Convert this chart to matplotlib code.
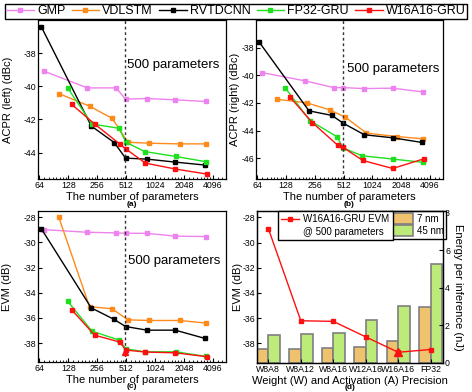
# ============================================================
# Imports
# ============================================================
import numpy as np
import matplotlib
matplotlib.use("Agg")
import matplotlib.pyplot as plt
from matplotlib.lines import Line2D
from matplotlib.ticker import FixedLocator, NullFormatter

plt.rcParams['font.family'] = ['Liberation Sans', 'DejaVu Sans']
plt.rcParams['axes.unicode_minus'] = False

# ============================================================
# Data
# ============================================================
models = ["GMP", "VDLSTM", "RVTDCNN", "FP32-GRU", "W16A16-GRU"]

params_gmp = [71, 202, 402, 506, 835, 1660, 3430]
params_vdlstm = [102, 213, 366, 533, 887, 1850, 3500]
params_rvtdcnn = [67, 222, 385, 505, 843, 1660, 3400]
params_fp32 = [126, 226, 433, 508, 797, 1680, 3500]
params_w16 = [139, 241, 442, 506, 812, 1670, 3530]

acpr_left_gmp = [-39.08, -40.1, -40.1, -40.78, -40.74, -40.82, -40.92]
acpr_left_vdlstm = [-40.44, -41.2, -41.94, -43.38, -43.44, -43.48, -43.48]
acpr_left_rvtdcnn = [-36.4, -42.4, -43.4, -44.34, -44.4, -44.58, -44.76]
acpr_left_fp32 = [-40.1, -42.28, -42.54, -43.38, -43.94, -44.24, -44.56]
acpr_left_w16 = [-41.1, -42.28, -43.5, -43.78, -44.64, -45.0, -45.3]

acpr_right_gmp = [-39.8, -40.4, -40.89, -40.89, -40.96, -40.93, -41.2]
acpr_right_vdlstm = [-41.73, -42.0, -42.5, -43.03, -44.18, -44.43, -44.6]
acpr_right_rvtdcnn = [-37.6, -42.57, -42.9, -43.46, -44.3, -44.52, -44.86]
acpr_right_fp32 = [-40.93, -43.27, -44.43, -45.26, -45.82, -46.06, -46.3]
acpr_right_w16 = [-41.54, -43.42, -45.05, -45.22, -46.16, -46.74, -46.04]

evm_gmp = [-28.98, -29.19, -29.24, -29.27, -29.27, -29.5, -29.53]
evm_vdlstm = [-28.0, -35.1, -35.27, -36.15, -36.2, -36.2, -36.41]
evm_rvtdcnn = [-28.9, -35.2, -36.12, -36.68, -36.97, -36.97, -37.63]
evm_fp32 = [-34.67, -37.05, -37.76, -38.45, -38.69, -38.69, -39.06]
evm_w16 = [-35.35, -37.37, -37.92, -38.55, -38.71, -38.77, -39.08]

highlight_params = 500
highlight_evm = -38.72

precision = ["W8A8", "W8A12", "W8A16", "W12A16", "W16A16", "FP32"]
evm_500 = [-28.9, -36.2, -36.25, -37.48, -38.7, -38.48]
energy_7nm = [0.74, 0.76, 0.80, 0.87, 1.18, 2.97]
energy_45nm = [1.47, 1.54, 1.61, 2.31, 3.06, 5.30]

x_ticks = [64, 128, 256, 512, 1024, 2048, 4096]

palette = {
    "GMP": "#EE82EE",
    "VDLSTM": "#FF8A1A",
    "RVTDCNN": "#000000",
    "FP32-GRU": "#1EE01E",
    "W16A16-GRU": "#FF1010",
    "bar7": "#EFC36E",
    "bar45": "#BDEB7A",
}

TICK_FS = 6.3
LABEL_FS = 8
TAG_FS = 6


# ============================================================
# Helpers
# ============================================================
def _param_panel(ax, series, ylim, yticks, ylabel, ylabel_x, tag, label_y, tag_y):
    params = [params_gmp, params_vdlstm, params_rvtdcnn, params_fp32, params_w16]
    for name, xs, ys in zip(models, params, series):
        ax.plot(xs, ys, marker='s', markersize=2.3, linewidth=1.0,
                color=palette[name], label=name)
    ax.axvline(highlight_params, color='#333333', linestyle=(0, (2, 2)), linewidth=1.0)

    ax.set_xscale('log', base=2)
    ax.set_xlim(62, 5600)
    ax.set_xticks(x_ticks)
    ax.set_xticklabels([str(t) for t in x_ticks])
    minor = [2 ** k * s for k in range(5, 13) for s in np.arange(1.125, 2.0, 0.125)]
    ax.xaxis.set_minor_locator(FixedLocator(minor))
    ax.xaxis.set_minor_formatter(NullFormatter())
    ax.set_ylim(*ylim)
    ax.set_yticks(yticks)

    ax.tick_params(axis='both', which='major', direction='in', length=3,
                   labelsize=TICK_FS, pad=1.2)
    ax.tick_params(axis='x', which='minor', direction='in', length=1.8)
    for sp in ax.spines.values():
        sp.set_linewidth(0.9)

    ax.set_xlabel("The number of parameters", fontsize=LABEL_FS)
    ax.xaxis.set_label_coords(0.5, label_y)
    ax.set_ylabel(ylabel, fontsize=LABEL_FS)
    ax.yaxis.set_label_coords(ylabel_x, 0.5)
    ax.text(0.5, tag_y, tag, transform=ax.transAxes, ha='center', va='center',
            fontsize=TAG_FS, fontweight='bold')


# ============================================================
# Figure
# ============================================================
W, H = 472, 392
fig = plt.figure(figsize=(W / 100, H / 100), dpi=100)


def _rect(left, top, right, bottom):
    return [left / W, 1 - bottom / H, (right - left) / W, (bottom - top) / H]


# Panel (a): ACPR left
ax_a = fig.add_axes(_rect(38, 20, 226, 179))
_param_panel(ax_a, [acpr_left_gmp, acpr_left_vdlstm, acpr_left_rvtdcnn, acpr_left_fp32, acpr_left_w16],
             (-45.6, -36.0), [-38, -40, -42, -44], "ACPR (left) (dBc)", -0.135, "(a)", -0.08, -0.16)
ax_a.text(0.475, 0.72, "500 parameters", transform=ax_a.transAxes, fontsize=9.5, va='center')

# Panel (b): ACPR right
ax_b = fig.add_axes(_rect(256, 20, 443, 179))
_param_panel(ax_b, [acpr_right_gmp, acpr_right_vdlstm, acpr_right_rvtdcnn, acpr_right_fp32, acpr_right_w16],
             (-47.5, -36.0), [-38, -40, -42, -44, -46], "ACPR (right) (dBc)", -0.085, "(b)", -0.08, -0.16)
ax_b.text(0.485, 0.69, "500 parameters", transform=ax_b.transAxes, fontsize=9.5, va='center')

# Panel (c): EVM
ax_c = fig.add_axes(_rect(38, 211, 226, 362))
_param_panel(ax_c, [evm_gmp, evm_vdlstm, evm_rvtdcnn, evm_fp32, evm_w16],
             (-39.5, -27.5), [-28, -30, -32, -34, -36, -38], "EVM (dB)", -0.14, "(c)", -0.083, -0.165)
ax_c.plot([highlight_params], [highlight_evm], marker='^', markersize=5,
          color=palette["W16A16-GRU"], linestyle='none')
ax_c.text(0.48, 0.67, "500 parameters", transform=ax_c.transAxes, fontsize=9.5, va='center')

# Top legend across the figure
handles, labels = ax_a.get_legend_handles_labels()
fig.legend(handles, labels, loc='upper center', ncol=5,
           bbox_to_anchor=(0.5, 1 - 3.5 / H),
           fontsize=9, handlelength=2.2, handletextpad=0.25, columnspacing=0.5,
           borderpad=0.12, borderaxespad=0, fancybox=False, framealpha=1,
           edgecolor='black')

# Panel (d): precision vs EVM & energy
ax_d = fig.add_axes(_rect(257, 211, 443, 363))
ax_e = ax_d.twinx()
xpos = np.arange(len(precision))
ax_e.bar(xpos - 0.18, energy_7nm, 0.36, color=palette["bar7"], edgecolor='#7f7f7f',
         linewidth=1.2, label='7 nm')
ax_e.bar(xpos + 0.18, energy_45nm, 0.36, color=palette["bar45"], edgecolor='#7f7f7f',
         linewidth=1.2, label='45 nm')
ax_e.set_ylim(0, 8.1)
ax_e.set_yticks([0, 2, 4, 6, 8])
ax_e.tick_params(direction='in', length=3, labelsize=TICK_FS, pad=1.5)
ax_e.set_ylabel("Energy per inference (nJ)", fontsize=LABEL_FS, rotation=270)
ax_e.yaxis.set_label_coords(1.105, 0.5)

ax_d.plot(xpos, evm_500, color=palette["W16A16-GRU"], marker='s', markersize=3.5,
          linewidth=1.0)
ax_d.plot(xpos[4], evm_500[4], marker='^', markersize=6, color=palette["W16A16-GRU"],
          linestyle='none')
ax_d.set_zorder(ax_e.get_zorder() + 1)
ax_d.patch.set_visible(False)
ax_d.set_xlim(-0.35, 5.38)
ax_d.set_ylim(-39.55, -27.5)
ax_d.set_yticks([-28, -30, -32, -34, -36, -38])
ax_d.set_xticks(xpos)
ax_d.set_xticklabels(precision)
ax_d.tick_params(direction='in', length=3, labelsize=TICK_FS, pad=1.2)
ax_d.set_xlabel("Weight (W) and Activation (A) Precision", fontsize=LABEL_FS)
ax_d.xaxis.set_label_coords(0.5, -0.083)
ax_d.set_ylabel("EVM (dB)", fontsize=LABEL_FS)
ax_d.yaxis.set_label_coords(-0.075, 0.5)
ax_d.text(0.5, -0.163, "(d)", transform=ax_d.transAxes, ha='center', va='center',
          fontsize=TAG_FS, fontweight='bold')
for a in (ax_d, ax_e):
    for sp in a.spines.values():
        sp.set_linewidth(0.9)

line_handles = [
    Line2D([], [], color=palette["W16A16-GRU"], marker='s', markersize=3.5, linewidth=1.0),
    Line2D([], [], linestyle='none'),
]
leg1 = ax_d.legend(line_handles, ["W16A16-GRU EVM", "@ 500 parameters"], loc='upper left',
                   bbox_to_anchor=(0.114, 1.0), borderaxespad=0, fontsize=7,
                   handlelength=1.8, handletextpad=0.5, borderpad=0.3, labelspacing=0.35,
                   fancybox=False, framealpha=1, edgecolor='black')
leg1._legend_box.align = "right"

ax_e.legend(loc='upper left', bbox_to_anchor=(0.716, 1.0), borderaxespad=0, fontsize=7,
            handlelength=2.1, handleheight=1.3, handletextpad=0.4, borderpad=0.25,
            labelspacing=0.15, fancybox=False, framealpha=1, edgecolor='black')

plt.savefig("out.png", dpi=100)
print("Plot saved.")
